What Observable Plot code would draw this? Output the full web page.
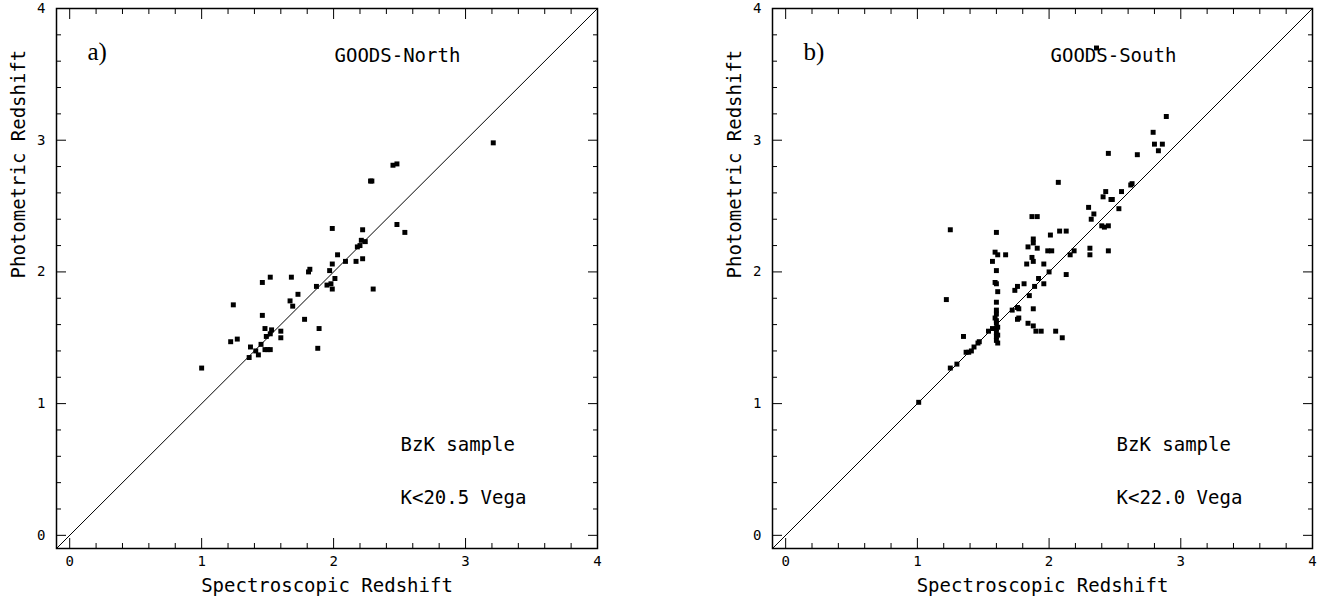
<!DOCTYPE html>
<html><head><meta charset="utf-8">
<script src="https://cdn.jsdelivr.net/npm/d3@7"></script>
<script src="https://cdn.jsdelivr.net/npm/@observablehq/plot@0.6"></script>
<style>
body{margin:0;background:#fff;}
#wrap{position:relative;width:1321px;height:600px;overflow:hidden;}
#wrap svg{position:absolute;top:0;overflow:visible;}
</style></head><body><div id="wrap"></div>
<script>
// ---- GOODS-North (panel a) ----
const northSpec = [1.00,1.22,1.27,1.24,1.36,1.37,1.41,1.43,1.45,1.46,1.46,1.48,1.49,1.48,1.50,1.52,1.53,1.52,1.52,1.60,1.60,1.67,1.68,1.69,1.73,1.78,1.81,1.82,1.87,1.89,1.88,1.95,1.97,1.98,1.99,1.99,1.99,2.01,2.03,2.09,2.17,2.18,2.20,2.22,2.22,2.21,2.24,2.28,2.29,2.30,2.45,2.48,2.48,2.54,3.21];
const northPhot = [1.27,1.47,1.49,1.75,1.35,1.43,1.40,1.37,1.45,1.92,1.67,1.57,1.51,1.41,1.41,1.53,1.56,1.41,1.96,1.55,1.50,1.78,1.96,1.74,1.83,1.64,2.00,2.02,1.89,1.57,1.42,1.90,2.01,1.91,2.33,1.87,2.06,1.95,2.13,2.08,2.08,2.19,2.20,2.10,2.32,2.24,2.23,2.69,2.69,1.87,2.81,2.82,2.36,2.30,2.98];
// ---- GOODS-South (panel b) ----
const southSpec = [1.01,1.25,1.22,1.25,1.30,1.35,1.37,1.39,1.41,1.43,1.46,1.47,1.54,1.57,1.57,1.67,1.72,1.74,1.76,1.76,1.77,1.76,1.77,1.81,1.83,1.84,1.85,1.84,1.87,1.91,1.88,1.88,1.87,1.88,1.89,1.88,1.88,1.90,1.91,1.92,1.96,1.96,1.94,2.01,2.00,1.99,2.02,2.05,2.07,2.08,2.10,2.13,2.13,2.16,2.19,2.30,2.31,2.31,2.32,2.34,2.40,2.41,2.43,2.42,2.45,2.45,2.45,2.47,2.48,2.53,2.55,2.62,2.63,2.67,2.79,2.80,2.83,2.86,2.89,2.36,
  1.60,1.59,1.61,1.60,1.59,1.60,1.61,1.60,1.60,1.60,1.59,1.60,1.60,1.61,1.60,1.60,1.61,1.60,1.60,1.61];
const southPhot = [1.01,2.32,1.79,1.27,1.30,1.51,1.39,1.39,1.40,1.43,1.46,1.47,1.55,1.57,2.08,2.13,1.71,1.86,1.89,1.73,1.72,1.64,1.65,1.91,2.06,2.19,1.82,1.61,2.42,2.42,2.25,2.22,2.11,2.08,1.89,1.72,1.59,1.55,2.18,1.95,2.06,1.91,1.55,2.28,2.00,2.16,2.16,1.55,2.68,2.31,1.50,2.31,1.98,2.13,2.16,2.49,2.18,2.13,2.40,2.44,2.35,2.57,2.61,2.34,2.90,2.35,2.16,2.55,2.55,2.48,2.61,2.66,2.67,2.89,3.06,2.97,2.92,2.97,3.18,3.70,
  2.30,2.15,2.13,2.01,1.92,1.91,1.85,1.77,1.71,1.68,1.65,1.63,1.61,1.58,1.57,1.54,1.52,1.51,1.48,1.46];

// ---- axes ----
const majorTicks = [0,1,2,3,4];
const minorTicks = [0.2,0.4,0.6,0.8,1.2,1.4,1.6,1.8,2.2,2.4,2.6,2.8,3.2,3.4,3.6,3.8];
const axisDomain = [-0.1, 4];
const xTitle = "Spectroscopic Redshift";
const yTitle = "Photometric Redshift";

const monoFont = "DejaVu Sans Mono";

function panel({spec, phot, tag, field, sample, limit, width, marginLeft, marginRight, left}) {
  const pts = spec.map((x, i) => ({x, y: phot[i]}));
  const diag = axisDomain.map(v => ({x: v, y: v}));
  const txt = (s, opts) => Plot.text([s], {text: d => d, fill: "#000", fontFamily: monoFont, fontSize: 19, ...opts});
  const tickAxes = [];
  for (const [vals, len] of [[majorTicks, -10], [minorTicks, -5]]) {
    tickAxes.push(Plot.axisX(vals, {anchor: "bottom", tickSize: len, fill: "none", label: null, stroke: "#000"}));
    tickAxes.push(Plot.axisX(vals, {anchor: "top", tickSize: len, fill: "none", label: null, stroke: "#000"}));
    tickAxes.push(Plot.axisY(vals, {anchor: "left", tickSize: len, fill: "none", label: null, stroke: "#000"}));
    tickAxes.push(Plot.axisY(vals, {anchor: "right", tickSize: len, fill: "none", label: null, stroke: "#000"}));
  }
  const svg = Plot.plot({
    width, height: 600, marginLeft, marginRight, marginTop: 8, marginBottom: 52,
    x: {domain: axisDomain},
    y: {domain: axisDomain},
    style: {fontFamily: monoFont, fontSize: "14px", color: "#000", background: "transparent"},
    marks: [
      Plot.line(diag, {x: "x", y: "y", stroke: "#000", strokeWidth: 1}),
      Plot.dot(pts, {x: "x", y: "y", symbol: "square", r: 2.8, fill: "#000", stroke: null}),
      Plot.axisX(majorTicks, {anchor: "bottom", tickSize: 0, tickPadding: 8, label: null, fontSize: 14, tickFormat: d3.format("d")}),
      Plot.axisY(majorTicks, {anchor: "left", tickSize: 0, tickPadding: 11, label: null, fontSize: 14, tickFormat: d3.format("d")}),
      ...tickAxes,
      Plot.frame({stroke: "#000", strokeWidth: 1.5}),
      Plot.text([tag], {text: d => d, frameAnchor: "top-left", dx: 31, dy: 34, textAnchor: "start", fontFamily: "Liberation Serif", fontSize: 25, fill: "#000"}),
      txt(field, {frameAnchor: "top-left", dx: 278, dy: 40, textAnchor: "start", letterSpacing: "1.5px"}),
      txt(sample, {frameAnchor: "top-left", dx: 344, dy: 429, textAnchor: "start", letterSpacing: "1px"}),
      txt(limit, {frameAnchor: "top-left", dx: 344, dy: 482, textAnchor: "start", letterSpacing: "0.5px"}),
      txt(xTitle, {frameAnchor: "bottom", dy: 43}),
      txt(yTitle, {frameAnchor: "left", dx: -38, rotate: -90})
    ]
  });
  svg.style.left = left + "px";
  document.getElementById("wrap").appendChild(svg);
}

panel({spec: northSpec, phot: northPhot, tag: "a)", field: "GOODS-North", sample: "BzK sample", limit: "K<20.5 Vega",
       width: 660, marginLeft: 56, marginRight: 63, left: 0});
panel({spec: southSpec, phot: southPhot, tag: "b)", field: "GOODS-South", sample: "BzK sample", limit: "K<22.0 Vega",
       width: 661, marginLeft: 112, marginRight: 9, left: 660});
</script>
</body></html>
